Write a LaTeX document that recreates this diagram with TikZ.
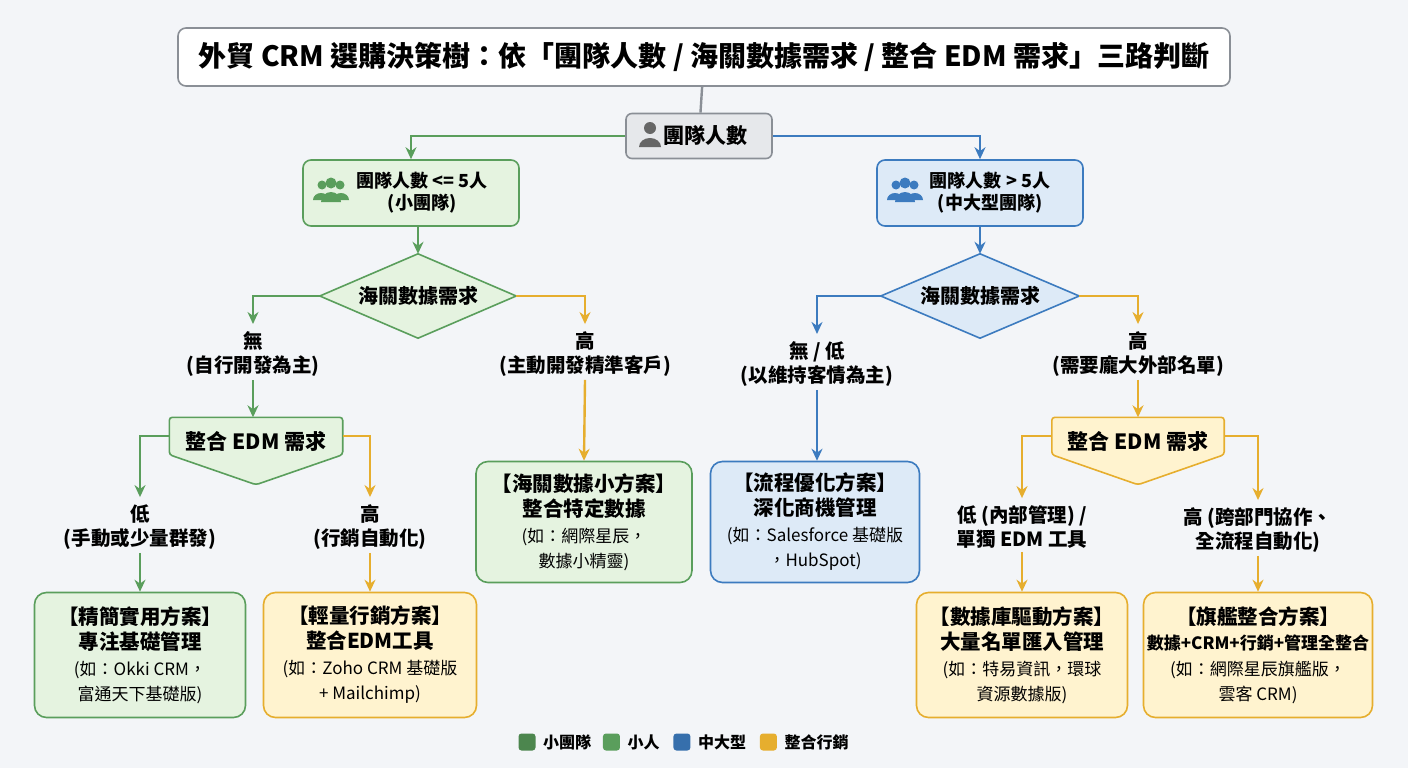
\documentclass[tikz,border=0pt]{standalone}
\usepackage{fontspec}
\setmainfont{Noto Sans CJK TC}
\usetikzlibrary{shapes.geometric, arrows.meta, positioning, calc}
\definecolor{bgcol}{HTML}{F3F5F8}
\definecolor{greenline}{HTML}{5A9E5C}
\definecolor{greenfill}{HTML}{E5F3E0}
\definecolor{blueline}{HTML}{3C7BBF}
\definecolor{bluefill}{HTML}{DDEAF7}
\definecolor{yellowline}{HTML}{E6AE2E}
\definecolor{yellowfill}{HTML}{FFF3CF}
\definecolor{grayline}{HTML}{8A8F96}
\definecolor{grayfill}{HTML}{E6E8EB}

\tikzset{
  box/.style={draw, line width=1.6pt, rounded corners=12pt, align=center, inner sep=2pt,
    font=\fontsize{20.5}{25}\selectfont\bfseries},
  greenbox/.style={box, draw=greenline, fill=greenfill},
  bluebox/.style={box, draw=blueline, fill=bluefill},
  yellowbox/.style={box, draw=yellowline, fill=yellowfill},
  decision/.style={inner sep=0pt, font=\fontsize{20}{24}\selectfont\bfseries},
  branch/.style={align=center, font=\fontsize{19.5}{24}\selectfont\bfseries},
  link/.style={line width=2.4pt, -{Stealth[length=12pt,width=11pt]}},
  legend/.style={rounded corners=3pt, minimum size=17pt, inner sep=0pt},
  big/.style={font=\fontsize{21}{25}\selectfont\bfseries},
  team/.style={align=center, font=\fontsize{18}{22}\selectfont\bfseries},
}
\newcommand{\plannote}{\fontsize{17}{21}\selectfont\mdseries}

\begin{document}
\begin{tikzpicture}[x=1pt, y=-1pt]
\fill[bgcol] (0,0) rectangle (1408,768);
\useasboundingbox (0,0) rectangle (1408,768);

% Title
\node[draw=grayline, line width=1.6pt, fill=white, rounded corners=8pt, minimum width=1052pt, minimum height=58pt,
  font=\fontsize{28}{32}\selectfont\bfseries] (title) at (704,57)
  {外貿 CRM 選購決策樹：依「團隊人數 / 海關數據需求 / 整合 EDM 需求」三路判斷};

% Root
\node[draw=grayline, line width=1.6pt, fill=grayfill, rounded corners=6pt, minimum width=146pt, minimum height=45pt,
  font=\fontsize{21}{24}\selectfont\bfseries, text width=96pt, align=right] (root) at (699,136) {團隊人數};
\fill[gray!80!black] (650,128) circle (6pt);
\fill[gray!80!black] (639,147) arc (180:0:11pt and 9pt) -- cycle;
\draw[grayline, line width=2.4pt] (title) -- (root);

% Team size
\node[greenbox, minimum width=216pt, minimum height=66pt, rounded corners=8pt] (small) at (411,193) {};
\node[team] (smallt) at (422,193) {團隊人數 <= 5人\\(小團隊)};
\node[bluebox, minimum width=206pt, minimum height=66pt, rounded corners=8pt] (large) at (980,193) {};
\node[team] (larget) at (990,193) {團隊人數 > 5人\\(中大型團隊)};
\foreach \cx/\col in {331/greenline, 905/blueline} {
  \fill[\col] (\cx-9,185) circle (4.5pt) (\cx+9,185) circle (4.5pt);
  \fill[\col] (\cx-18,200) arc (180:0:8pt and 7pt) -- cycle;
  \fill[\col] (\cx+2,200) arc (180:0:8pt and 7pt) -- cycle;
  \fill[\col] (\cx,183) circle (5.5pt);
  \fill[\col] (\cx-10,202) arc (180:0:10pt and 10pt) -- cycle;
}
\draw[link, greenline] (root.west) -| (small.north);
\draw[link, blueline] (root.east) -| (large.north);

% Customs data decisions
\node[decision, minimum width=196pt, minimum height=84pt] (dataL) at (418,296) {};
\node[decision, minimum width=198pt, minimum height=84pt] (dataR) at (980,296) {};
\filldraw[greenline, fill=greenfill, line width=1.6pt] (dataL.north) -- (dataL.east) -- (dataL.south) -- (dataL.west) -- cycle;
\filldraw[blueline, fill=bluefill, line width=1.6pt] (dataR.north) -- (dataR.east) -- (dataR.south) -- (dataR.west) -- cycle;
\node[decision] (dataLt) at (dataL) {海關數據需求};
\node[decision] (dataRt) at (dataR) {海關數據需求};
\draw[link, greenline] (small.south -| dataL) -- (dataL.north);
\draw[link, blueline] (large.south -| dataR) -- (dataR.north);

\node[branch] (noneL) at (253,354) {無\\(自行開發為主)};
\node[branch] (highL) at (585,354) {高\\(主動開發精準客戶)};
\node[branch] (noneR) at (817,364) {無 / 低\\(以維持客情為主)};
\node[branch] (highR) at (1138,354) {高\\(需要龐大外部名單)};
\draw[link, greenline, shorten >=4pt] (dataL.west) -| (noneL.north);
\draw[link, yellowline, shorten >=4pt] (dataL.east) -| (highL.north);
\draw[link, blueline, shorten >=4pt] (dataR.west) -| (noneR.north);
\draw[link, yellowline, shorten >=4pt] (dataR.east) -| (highR.north);

% EDM decisions
\node[minimum width=173pt, minimum height=37pt] (edmL) at (256,436) {};
\node[minimum width=172pt, minimum height=37pt] (edmR) at (1138,436) {};
\filldraw[greenline, fill=greenfill, line width=1.6pt, rounded corners=3pt] (edmL.north west) -- (edmL.north east) -- (edmL.south east)
  -- ($(edmL.south)+(0,30)$) -- (edmL.south west) -- cycle;
\filldraw[yellowline, fill=yellowfill, line width=1.6pt, rounded corners=3pt] (edmR.north west) -- (edmR.north east) -- (edmR.south east)
  -- ($(edmR.south)+(0,30)$) -- (edmR.south west) -- cycle;
\node[big] (edmLt) at ($(edmL)+(0,5)$) {整合 EDM 需求};
\node[big] (edmRt) at ($(edmR)+(0,5)$) {整合 EDM 需求};
\draw[link, greenline] (noneL.south) -- (edmL.north -| noneL);
\draw[link, yellowline] (highR.south) -- (edmR.north);

\node[branch] (lowLL) at (140,527) {低\\(手動或少量群發)};
\node[branch] (highLL) at (370,527) {高\\(行銷自動化)};
\node[branch] (lowRR) at (1022,527) {低 (內部管理) /\\單獨 EDM 工具};
\node[branch] (highRR) at (1258,530) {高 (跨部門協作、\\全流程自動化)};
\draw[link, greenline, shorten >=4pt] (edmL.west) -| (lowLL.north);
\draw[link, yellowline, shorten >=4pt] (edmL.east) -| (highLL.north);
\draw[link, yellowline, shorten >=4pt] (edmR.west) -| (lowRR.north);
\draw[link, yellowline, shorten >=4pt] (edmR.east) -| (highRR.north);

% Plans
\node[greenbox, minimum width=211pt, minimum height=125pt] (basic) at (140,655)
  {【精簡實用方案】\\專注基礎管理\\[1pt]\plannote (如：Okki CRM，\\\plannote 富通天下基礎版)};
\node[yellowbox, minimum width=213pt, minimum height=125pt] (light) at (370,655)
  {【輕量行銷方案】\\整合EDM工具\\[1pt]\plannote (如：Zoho CRM 基礎版\\\plannote + Mailchimp)};
\node[greenbox, minimum width=216pt, minimum height=121pt] (customs) at (584,522)
  {【海關數據小方案】\\整合特定數據\\[1pt]\plannote (如：網際星辰，\\\plannote 數據小精靈)};
\node[bluebox, minimum width=209pt, minimum height=121pt] (process) at (815,522)
  {【流程優化方案】\\深化商機管理\\[1pt]\plannote (如：Salesforce 基礎版\\\plannote ，HubSpot)};
\node[yellowbox, minimum width=211pt, minimum height=125pt] (database) at (1022,655)
  {【數據庫驅動方案】\\大量名單匯入管理\\[1pt]\plannote (如：特易資訊，環球\\\plannote 資源數據版)};
\node[yellowbox, minimum width=229pt, minimum height=125pt] (flagship) at (1258,655)
  {【旗艦整合方案】\\{\fontsize{17}{25}\selectfont 數據+CRM+行銷+管理全整合}\\[1pt]\plannote (如：網際星辰旗艦版，\\\plannote 雲客 CRM)};
\draw[link, greenline] (lowLL.south) -- (basic.north);
\draw[link, yellowline] (highLL.south) -- (light.north);
\draw[link, yellowline] (highL.south) -- (customs.north);
\draw[link, blueline] (noneR.south) -- (process.north -| noneR);
\draw[link, yellowline] (lowRR.south) -- (database.north);
\draw[link, yellowline] (highRR.south) -- (flagship.north);

% Legend
\node[legend, fill=greenline!85!black] (lgA) at (527,742) {};
\node[right=4pt of lgA, font=\fontsize{16}{18}\selectfont\bfseries] (lgAt) {小團隊};
\node[legend, fill=greenline, right=8pt of lgAt] (lgB) {};
\node[right=4pt of lgB, font=\fontsize{16}{18}\selectfont\bfseries] (lgBt) {小人};
\node[legend, fill=blueline!90!black, right=10pt of lgBt] (lgC) {};
\node[right=4pt of lgC, font=\fontsize{16}{18}\selectfont\bfseries] (lgCt) {中大型};
\node[legend, fill=yellowline, right=10pt of lgCt] (lgD) {};
\node[right=4pt of lgD, font=\fontsize{16}{18}\selectfont\bfseries] (lgDt) {整合行銷};
\end{tikzpicture}
\end{document}
